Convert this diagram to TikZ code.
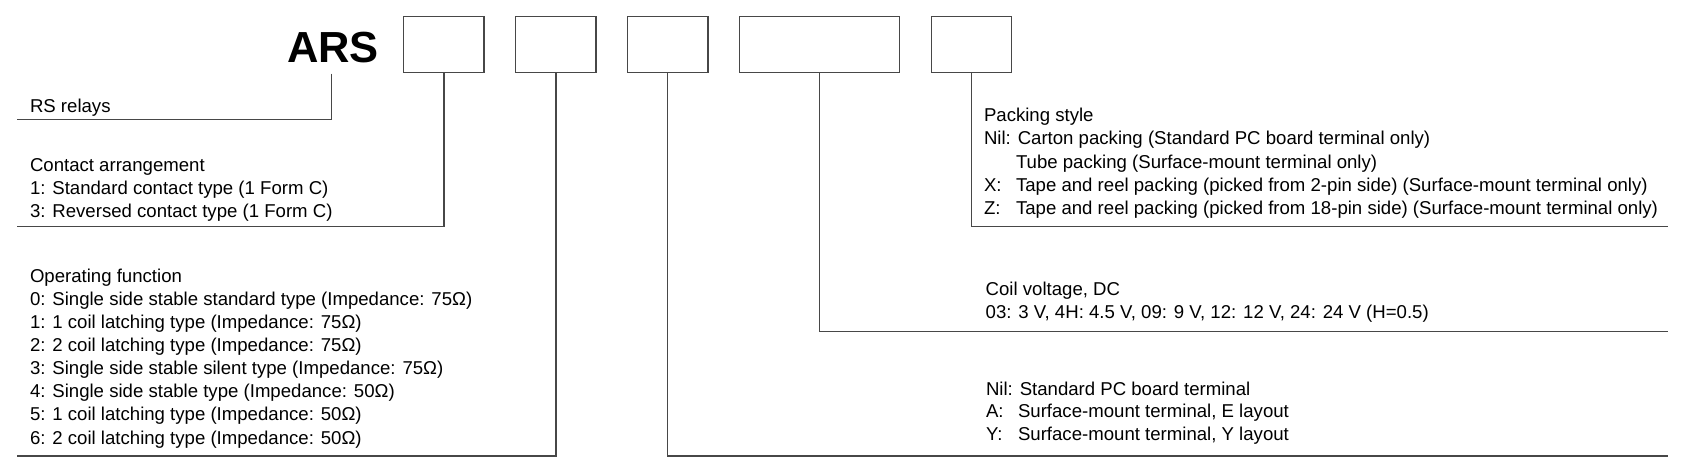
\documentclass[tikz,border=0pt]{standalone}
\usepackage{fontspec}
\setmainfont{Liberation Sans}
\usetikzlibrary{calc}
\begin{document}
\begin{tikzpicture}[x=1pt,y=-1pt,
  lbl/.style={anchor=base west, inner sep=0pt, outer sep=0pt, font=\fontsize{18.6}{23}\selectfont},
  codebox/.style={draw=black!72, line width=1.3pt, minimum width=80.3pt, minimum height=56pt, inner sep=0pt, outer sep=0pt},
  conn/.style={draw=black!72, line width=1.3pt}]
\useasboundingbox (0,0) rectangle (1682,473);
\fill[white] (0,0) rectangle (1682,473);
% code boxes
\node[codebox] (b1) at (443.85,44.7) {};
\node[codebox] (b2) at (555.85,44.7) {};
\node[codebox] (b3) at (667.7,44.7) {};
\node[codebox, minimum width=160pt] (b4) at (819.3,44.7) {};
\node[codebox] (b5) at (971.6,44.7) {};
\node[anchor=base east, inner sep=0pt, outer sep=0pt, font=\fontsize{43.5}{50}\selectfont\bfseries] (ars) at (379,62.7) {ARS};
% connector ends
\coordinate (c0) at (16.7,119.3);
\coordinate (c1) at (16.7,226.7);
\coordinate (c2) at (16.7,456);
\coordinate (c3) at (1667.7,456);
\coordinate (c4) at (1667.7,331.7);
\coordinate (c5) at (1667.7,226.7);
\draw[conn] ($(ars.south)+(-1.3,10.6)$) |- (c0);
\draw[conn] (b1.south) |- (c1);
\draw[conn] (b2.south) |- (c2);
\draw[conn] (b3.south) |- (c3);
\draw[conn] (b4.south) |- (c4);
\draw[conn] (b5.south) |- (c5);
% RS relays
\node[lbl] (rs) at (30,112.7) {RS relays};
% Contact arrangement
\node[lbl] (ca0) at (30,171.7) {Contact arrangement};
\node[lbl] (ca1) at (30,194.5) {1: Standard contact type (1 Form C)};
\node[lbl] (ca2) at (30,217.3) {3: Reversed contact type (1 Form C)};
% Operating function
\node[lbl] (of0) at (30,282.3) {Operating function};
\node[lbl] (of1) at (30,305.4) {0: Single side stable standard type (Impedance: 75Ω)};
\node[lbl] (of2) at (30,328.5) {1: 1 coil latching type (Impedance: 75Ω)};
\node[lbl] (of3) at (30,351.6) {2: 2 coil latching type (Impedance: 75Ω)};
\node[lbl] (of4) at (30,374.7) {3: Single side stable silent type (Impedance: 75Ω)};
\node[lbl] (of5) at (30,397.8) {4: Single side stable type (Impedance: 50Ω)};
\node[lbl] (of6) at (30,420.9) {5: 1 coil latching type (Impedance: 50Ω)};
\node[lbl] (of7) at (30,444) {6: 2 coil latching type (Impedance: 50Ω)};
% Packing style
\node[lbl] (ps0) at (984,121.7) {Packing style};
\node[lbl] (ps1) at (984,145) {Nil: Carton packing (Standard PC board terminal only)};
\node[lbl] (ps2) at (984,168.3) {\hspace*{1.722em}Tube packing (Surface-mount terminal only)};
\node[lbl] (ps3) at (984,191.6) {\makebox[1.722em][l]{X:}Tape and reel packing (picked from 2-pin side) (Surface-mount terminal only)};
\node[lbl] (ps4) at (984,215) {\makebox[1.722em][l]{Z:}Tape and reel packing (picked from 18-pin side) (Surface-mount terminal only)};
% Coil voltage
\node[lbl] (cv0) at (985.7,295.5) {Coil voltage, DC};
\node[lbl] (cv1) at (985.7,318.3) {03: 3 V, 4H: 4.5 V, 09: 9 V, 12: 12 V, 24: 24 V (H=0.5)};
% Terminal
\node[lbl] (tm0) at (986,395) {Nil: Standard PC board terminal};
\node[lbl] (tm1) at (986,417.7) {\makebox[1.722em][l]{A:}Surface-mount terminal, E layout};
\node[lbl] (tm2) at (986,440) {\makebox[1.722em][l]{Y:}Surface-mount terminal, Y layout};
\end{tikzpicture}
\end{document}
